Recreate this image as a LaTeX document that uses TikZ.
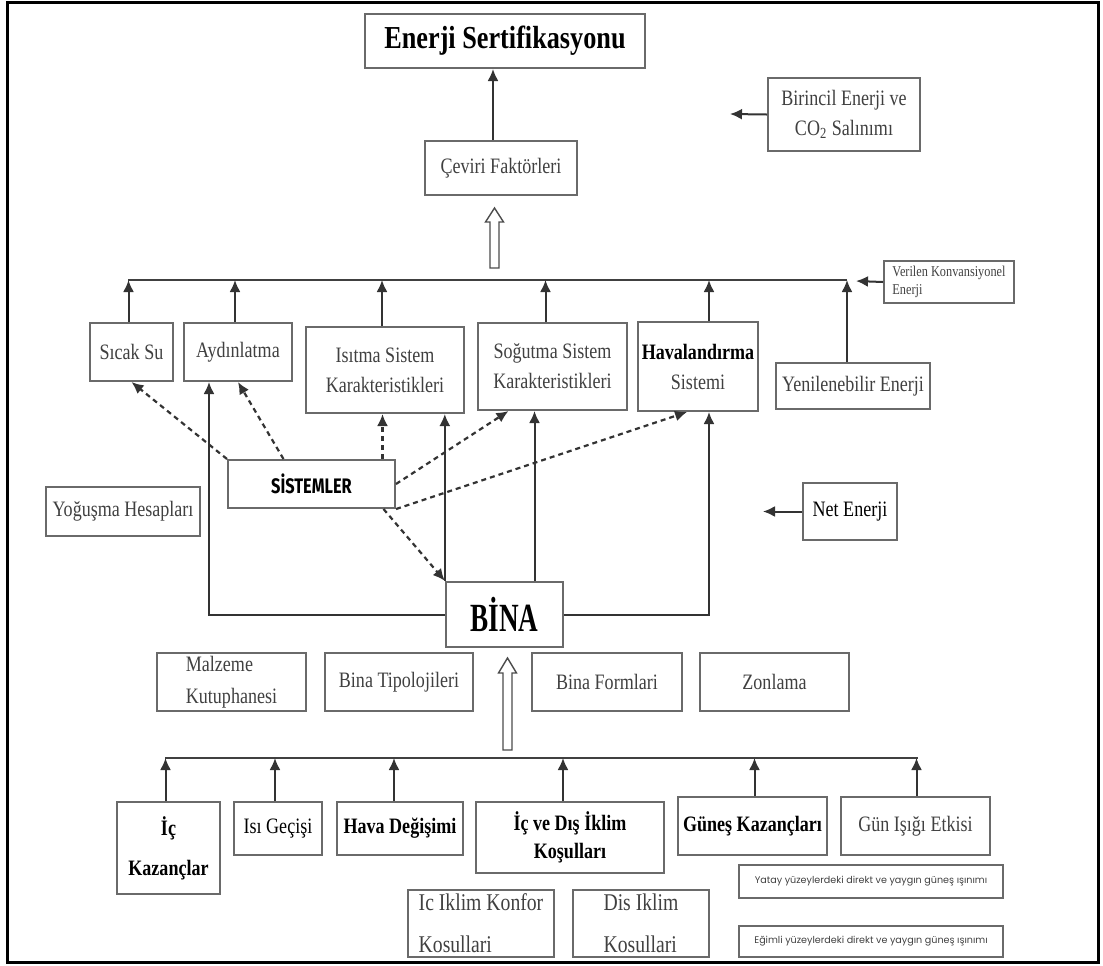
\documentclass[tikz,border=0pt]{standalone}
\usepackage{fontspec}
\setmainfont[FakeStretch=0.82]{Liberation Serif}
\newfontfamily\sysfont[FakeStretch=0.78]{Fira Sans}
\newfontfamily\notefont{Poppins}
\newfontfamily\binafont[FakeStretch=0.68]{Liberation Serif}
\usetikzlibrary{arrows.meta,positioning}
\definecolor{boxgray}{HTML}{6A6A6A}
\definecolor{textgray}{HTML}{404040}
\tikzset{
  box/.style={draw=boxgray, line width=1pt, rectangle, inner sep=1pt, align=center, text=textgray, font=\fontsize{11}{15}\selectfont},
  darkbox/.style={box, text=black, font=\fontsize{11}{15}\selectfont\bfseries},
  arr/.style={-{Latex[length=6pt,width=5.5pt]}, line width=1pt, draw=black!80},
  dasharr/.style={arr, dash pattern=on 2.5pt off 2pt, line width=1.1pt},
  bus/.style={line width=1pt, draw=black!75},
  hollow/.style={draw=black!70, line width=0.7pt, fill=white},
}

\begin{document}
\begin{tikzpicture}[x=0.5pt,y=-0.5pt]
\useasboundingbox (0,0) rectangle (1103,965);
\draw[line width=1.5pt] (7,2) rectangle (1098,962);

%the nodes at the top
\node[box, text=black, font=\fontsize{16}{18}\selectfont\bfseries, minimum width=140pt, minimum height=27pt] (cert) at (505,41) {Enerji Sertifikasyonu};
\node[box, minimum width=76pt, minimum height=36.5pt] (prim) at (844,114.5) {Birincil Enerji ve\\CO\textsubscript{2} Salınımı};
\node[box, minimum width=76pt, minimum height=27pt] (conv) at (501,168) {Çeviri Faktörleri};
\node[box, font=\fontsize{7.5}{9}\selectfont, align=left, minimum width=65pt, minimum height=21pt] (given) at (949,282) {Verilen Konvansiyonel\\Enerji};
\coordinate (primend) at (730,114);
\coordinate (givenend) at (856,281);
\coordinate (topbus) at (128,280);
\coordinate (topbusend) at (847,280);

%the systems row
\node[box, minimum width=41.5pt, minimum height=29pt] (water) at (131.5,352) {Sıcak Su};
\node[box, minimum width=54pt, minimum height=29pt] (light) at (238,352) {Aydınlatma};
\node[box, minimum width=79pt, minimum height=43pt] (heat) at (385,370) {Isıtma Sistem\\Karakteristikleri};
\node[box, minimum width=74.5pt, minimum height=43.5pt] (cool) at (552.5,366.5) {Soğutma Sistem\\Karakteristikleri};
\node[box, minimum width=60pt, minimum height=44.5pt] (vent) at (698,366.5) {\textcolor{black}{\bfseries Havalandırma}\\Sistemi};
\node[box, minimum width=77pt, minimum height=23pt] (renew) at (853,386) {Yenilenebilir Enerji};

%the middle
\node[box, text=black, font=\sysfont\bfseries\fontsize{10.5}{12}\selectfont, minimum width=83.5pt, minimum height=24pt] (sys) at (311.5,484) {SİSTEMLER};
\node[box, minimum width=77pt, minimum height=24.5pt] (cond) at (123,511.5) {Yoğuşma Hesapları};
\node[box, text=black, font=\binafont\bfseries\fontsize{20}{22}\selectfont, minimum width=58.5pt, minimum height=32.5pt, line width=1.2pt] (bina) at (504.5,614.5) {BİNA};
\node[box, text=black, minimum width=47pt, minimum height=28.5pt] (net) at (850,511.5) {Net Enerji};
\coordinate (netend) at (763,511.5);

%the building data
\node[box, align=left, font=\fontsize{11}{16}\selectfont, minimum width=74.5pt, minimum height=29pt] (lib) at (231.5,682) {Malzeme\\Kutuphanesi};
\node[box, minimum width=74pt, minimum height=29pt] (typo) at (399,682) {Bina Tipolojileri};
\node[box, minimum width=75pt, minimum height=29pt] (form) at (607,682) {Bina Formlari};
\node[box, minimum width=74.5pt, minimum height=29pt] (zone) at (774.5,682) {Zonlama};
\coordinate (lowbus) at (165,758);
\coordinate (lowbusend) at (918,758);

%the nodes along the bottom
\node[darkbox, font=\fontsize{11}{20}\selectfont\bfseries, minimum width=51.5pt, minimum height=46pt] (gain) at (168.5,848) {İç\\Kazançlar};
\node[box, text=black, minimum width=44pt, minimum height=26.5pt] (trans) at (278,828.5) {Isı Geçişi};
\node[darkbox, minimum width=63pt, minimum height=26.5pt] (air) at (400,828.5) {Hava Değişimi};
\node[darkbox, font=\fontsize{11}{14}\selectfont\bfseries, minimum width=94pt, minimum height=35.5pt] (clim) at (570,837.5) {İç ve Dış İklim\\Koşulları};
\node[darkbox, minimum width=74.5pt, minimum height=29pt] (solar) at (752.5,826) {Güneş Kazançları};
\node[box, minimum width=74.5pt, minimum height=29pt] (day) at (915.5,826) {Gün Işığı Etkisi};
\node[box, font=\notefont\fontsize{4.8}{6}\selectfont, minimum width=132pt, minimum height=16.5pt] (flat) at (871,881.5) {Yatay yüzeylerdeki direkt ve yaygın güneş ışınımı};
\node[box, font=\notefont\fontsize{4.8}{6}\selectfont, minimum width=132pt, minimum height=15.5pt] (tilt) at (871,941.5) {Eğimli yüzeylerdeki direkt ve yaygın güneş ışınımı};
\node[box, align=left, font=\fontsize{12}{21}\selectfont, minimum width=73pt, minimum height=33.5pt] (incomf) at (481,923.5) {Ic Iklim Konfor\\Kosullari};
\node[box, align=left, font=\fontsize{12}{21}\selectfont, minimum width=68pt, minimum height=33.5pt] (outclim) at (641,923.5) {Dis Iklim\\Kosullari};

%arrows at the top
\draw[arr] ([xshift=-4pt]conv.north) -- ([xshift=-4pt]conv.north |- cert.south);
\draw[arr] (prim.west) -- (primend);
\draw[arr] (given.west) -- (givenend);
\draw[bus] (topbus) -- (topbusend);
\foreach \n/\dx in {water/-1.5, light/-1.5, heat/-1.5, cool/-3.5, vent/5.5}
  \draw[arr] ([xshift=\dx pt]\n.north) -- ([xshift=\dx pt]\n.north |- topbus);
\draw[arr] ([xshift=-3pt]renew.north) -- (topbusend);
\draw[hollow] (490,268) -- (490,222) -- (485.5,222) -- (494.5,208) -- (503.5,222) -- (499,222) -- (499,268) -- cycle;

%building to systems
\draw[arr] (bina.west) -| ([xshift=-14.5pt]light.south);
\draw[arr] (bina.east) -| ([xshift=5.5pt]vent.south);
\draw[arr] (bina.north west) -- (bina.north west |- heat.south);
\draw[arr] ([xshift=15pt]bina.north) -- ([xshift=15pt]bina.north |- cool.south);
\draw[dasharr] (sys.north west) -- (water.south);
\draw[dasharr] ([xshift=-14pt]sys.north) -- (light.south);
\draw[dasharr] ([xshift=35.5pt]sys.north) -- ([xshift=35.5pt]sys.north |- heat.south);
\draw[dasharr] (sys.east) -- ([xshift=-22pt]cool.south);
\draw[dasharr] (sys.south east) -- ([xshift=-5.5pt]vent.south);
\draw[dasharr] ([xshift=36pt]sys.south) -- (bina.north west);
\draw[arr] (net.west) -- (netend);

%arrows at the bottom
\draw[hollow] (503,750) -- (503,673) -- (498.5,673) -- (507.5,658) -- (516.5,673) -- (512,673) -- (512,750) -- cycle;
\draw[bus] (lowbus) -- (lowbusend);
\foreach \n/\dx in {gain/-1.5, trans/-1.5, air/-3, clim/-3.5, solar/1, day/0.5}
  \draw[arr] ([xshift=\dx pt]\n.north) -- ([xshift=\dx pt]\n.north |- lowbus);
\end{tikzpicture}
\end{document}
